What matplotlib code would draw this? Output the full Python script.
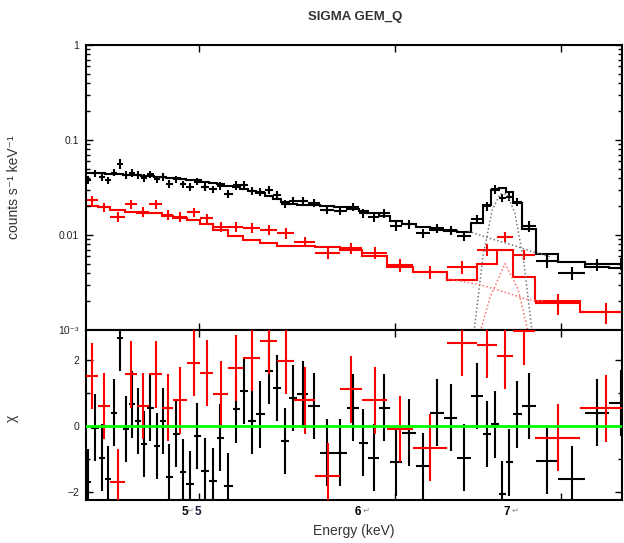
import numpy as np
import matplotlib
matplotlib.use("Agg")
import matplotlib.pyplot as plt
from matplotlib.ticker import FixedLocator, NullLocator, NullFormatter, LogLocator

plt.rcParams['font.family'] = ['Liberation Sans', 'DejaVu Sans']

# ---------------- data (energies in keV) ----------------
black_edges = [4.497, 4.524, 4.554, 4.582, 4.605, 4.631, 4.657, 4.683, 4.711, 4.735,
               4.762, 4.793, 4.822, 4.847, 4.878, 4.910, 4.940, 4.975, 5.009, 5.047,
               5.082, 5.118, 5.158, 5.194, 5.231, 5.272, 5.314, 5.356, 5.396, 5.436,
               5.479, 5.531, 5.595, 5.666, 5.735, 5.799, 5.853, 5.908, 5.971, 6.038,
               6.115, 6.198, 6.276, 6.358, 6.441, 6.508, 6.559, 6.608, 6.651, 6.692,
               6.751, 6.839, 6.981, 7.158, 7.320, 7.478]
black_data = [0.0381, 0.0445, 0.0407, 0.0378, 0.0454, 0.0560, 0.0428, 0.0453, 0.0431, 0.0399,
              0.0436, 0.0388, 0.0410, 0.0344, 0.0386, 0.0341, 0.0323, 0.0365, 0.0321, 0.0302,
              0.0331, 0.0271, 0.0334, 0.0337, 0.0294, 0.0285, 0.0297, 0.0265, 0.0212, 0.0230,
              0.0228, 0.0217, 0.0184, 0.0179, 0.0198, 0.0170, 0.0154, 0.0170, 0.0125, 0.0129,
              0.0104, 0.0118, 0.0113, 0.0097, 0.0147, 0.0200, 0.0302, 0.0246, 0.0254, 0.0223,
              0.0124, 0.0053, 0.0040, 0.0049, 0.0050]
black_relerr = [0.09, 0.09, 0.09, 0.09, 0.09, 0.12, 0.09, 0.09, 0.09, 0.09,
                0.09, 0.09, 0.09, 0.09, 0.09, 0.09, 0.09, 0.09, 0.09, 0.09,
                0.10, 0.10, 0.10, 0.10, 0.10, 0.10, 0.10, 0.10, 0.10, 0.10,
                0.10, 0.10, 0.10, 0.10, 0.10, 0.11, 0.11, 0.11, 0.11, 0.11,
                0.11, 0.11, 0.11, 0.11, 0.10, 0.10, 0.10, 0.10, 0.10, 0.10,
                0.13, 0.15, 0.15, 0.15, 0.15]
black_model = [0.0450, 0.0447, 0.0445, 0.0442, 0.0438, 0.0435, 0.0432, 0.0428, 0.0425, 0.0420,
               0.0415, 0.0410, 0.0405, 0.0400, 0.0395, 0.0390, 0.0383, 0.0375, 0.0365, 0.0355,
               0.0343, 0.0330, 0.0318, 0.0305, 0.0290, 0.0275, 0.0255, 0.0238, 0.0222, 0.0212,
               0.0208, 0.0205, 0.0200, 0.0195, 0.0188, 0.0180, 0.0172, 0.0160, 0.0142, 0.0132,
               0.0120, 0.0113, 0.0110, 0.0108, 0.0135, 0.0205, 0.0300, 0.0310, 0.0285, 0.0215,
               0.0115, 0.0063, 0.0052, 0.0046, 0.0045]
black_resid = [-1.7, -0.05, -0.95, -1.6, 0.4, 2.65, -0.1, 0.65, 0.15, -0.55,
               0.55, -0.6, 0.15, -1.55, -0.25, -1.4, -1.75, -0.3, -1.35, -1.65,
               -0.35, -1.8, 0.5, 1.05, 0.15, 0.35, 1.65, 1.15, -0.45, 0.85,
               0.95, 0.6, -0.8, -0.8, 0.55, -0.5, -0.95, 0.55, -1.1, -0.2,
               -1.2, 0.4, 0.25, -0.95, 0.9, -0.25, 0.05, -2.05, -1.1, 0.35,
               0.6, -1.05, -1.6, 0.4, 0.7]

red_edges = [4.497, 4.552, 4.603, 4.668, 4.720, 4.773, 4.831, 4.881, 4.945, 5.005,
             5.066, 5.137, 5.209, 5.292, 5.376, 5.462, 5.569, 5.700, 5.818, 5.955,
             6.100, 6.296, 6.474, 6.596, 6.695, 6.833, 7.125, 7.478]
red_data = [0.0234, 0.0198, 0.0155, 0.0210, 0.0175, 0.0210, 0.0163, 0.0155, 0.0175, 0.0150,
            0.0122, 0.0122, 0.0119, 0.0113, 0.0105, 0.0085, 0.0065, 0.0073, 0.0065, 0.0048,
            0.0041, 0.0046, 0.0070, 0.0095, 0.0062, 0.00192, 0.00155]
red_relerr = [0.11, 0.11, 0.12, 0.11, 0.12, 0.11, 0.12, 0.12, 0.11, 0.12,
              0.12, 0.12, 0.12, 0.12, 0.13, 0.13, 0.13, 0.13, 0.14, 0.16,
              0.16, 0.15, 0.14, 0.12, 0.13, 0.25, 0.25]
red_model = [0.0201, 0.0198, 0.0183, 0.0175, 0.0169, 0.0169, 0.0157, 0.0150, 0.0145, 0.0129,
             0.0113, 0.0097, 0.0088, 0.0082, 0.0077, 0.0077, 0.0074, 0.0070, 0.0060, 0.0046,
             0.0041, 0.0034, 0.0050, 0.0070, 0.0036, 0.0020, 0.00155]
red_resid = [1.5, 0.6, -1.7, 1.55, 0.6, 1.55, 0.55, 0.77, 1.9, 1.6,
             0.95, 1.75, 2.05, 2.55, 1.95, 0.77, -1.5, 1.1, 0.77, -0.1,
             -0.65, 2.5, 2.45, 2.1, 2.85, -0.35, 0.53]

# model components (dotted)
black_line_E = [6.451, 6.511, 6.565, 6.614, 6.658, 6.707, 6.764, 6.820]
black_line_val = [0.0008, 0.006, 0.018, 0.027, 0.027, 0.017, 0.005, 0.0008]
black_cont_E = [6.421, 6.553, 6.676, 6.801, 6.929]
black_cont_val = [0.0110, 0.0092, 0.0080, 0.0068, 0.0059]
red_line_E = [6.481, 6.553, 6.645, 6.726, 6.801]
red_line_val = [0.0008, 0.0022, 0.0050, 0.0027, 0.0008]
red_cont_E = [6.285, 6.493, 6.645, 6.783, 6.897]
red_cont_val = [0.0035, 0.0030, 0.0025, 0.0021, 0.0020]

y_ticks = [1e-3, 0.01, 0.1, 1]
y_ticklabels = ['10\u207b\u00b3', '0.01', '0.1', '1']
x_ticks = [5, 6, 7]
x_label_parts = [('5', 0.1838, 'k', 'bold', 8.5), ('\u21b5', 0.1950, '#888888', 'normal', 6),
                 ('5', 0.2080, '#1a1a40', 'bold', 8.5),
                 ('6', 0.5080, 'k', 'bold', 8.5), ('\u21b5', 0.5225, '#888888', 'normal', 6),
                 ('7', 0.7855, 'k', 'bold', 8.5), ('\u21b5', 0.8005, '#888888', 'normal', 6)]

# ---------------- helpers ----------------
def centers_widths(edges):
    e = np.asarray(edges)
    c = 0.5 * (e[:-1] + e[1:])
    return c, c - e[:-1], e[1:] - c

W, H = 624, 543
fig = plt.figure(figsize=(W / 100, H / 100), dpi=100)
L, R = 86, 622
ax1 = fig.add_axes([L / W, 1 - 330 / H, (R - L) / W, 285 / H])
ax2 = fig.add_axes([L / W, 1 - 500 / H, (R - L) / W, 170 / H], sharex=ax1)

lw = 1.5
for edges, data, rel, model, col in [(black_edges, black_data, black_relerr, black_model, 'black'),
                                     (red_edges, red_data, red_relerr, red_model, '#ff0000')]:
    c, xl, xr = centers_widths(edges)
    d = np.asarray(data)
    err = d * np.asarray(rel)
    ax1.errorbar(c, d, xerr=[xl, xr], yerr=err, fmt='none', ecolor=col, elinewidth=lw, capsize=0)
    ax1.stairs(model, edges, color=col, lw=lw)

ax1.plot(black_line_E, black_line_val, ls=(0, (1, 1.5)), color='#777777', lw=1.1)
ax1.plot(black_cont_E, black_cont_val, ls=(0, (1, 1.5)), color='#777777', lw=1.1)
ax1.plot(red_line_E, red_line_val, ls=(0, (1, 1.5)), color='#ff7070', lw=1.1)
ax1.plot(red_cont_E, red_cont_val, ls=(0, (1, 1.5)), color='#ff7070', lw=1.1)

for edges, res, col, z in [(black_edges, black_resid, 'black', 2), (red_edges, red_resid, '#ff0000', 3)]:
    c, xl, xr = centers_widths(edges)
    ax2.errorbar(c, res, xerr=[xl, xr], yerr=np.ones(len(res)), fmt='none', ecolor=col,
                 elinewidth=lw, capsize=0, zorder=z)
ax2.axhline(0, color='#00ff00', lw=2.0, zorder=5)

# ---------------- axes styling ----------------
for ax in (ax1, ax2):
    ax.set_xscale('log')
    ax.set_xlim(4.501, 7.409)
    ax.xaxis.set_major_locator(FixedLocator(x_ticks))
    ax.xaxis.set_minor_locator(NullLocator())
    ax.xaxis.set_major_formatter(NullFormatter())
    ax.xaxis.set_minor_formatter(NullFormatter())
    ax.tick_params(which='both', direction='in', top=True, right=True, width=1.0,
                   labelsize=7.5, labelcolor='#222222', pad=5)
    ax.tick_params(which='major', length=5)
    ax.tick_params(which='minor', length=3)
    for s in ax.spines.values():
        s.set_linewidth(1.5)

ax1.set_yscale('log')
ax1.set_ylim(1e-3, 1)
ax1.yaxis.set_major_locator(FixedLocator(y_ticks))
ax1.set_yticklabels(y_ticklabels)
ax1.yaxis.set_minor_locator(LogLocator(base=10, subs=np.arange(2, 10)))
ax1.yaxis.set_minor_formatter(NullFormatter())
ax1.tick_params(axis='x', labelbottom=False)

ax2.set_ylim(-2.23, 2.89)
ax2.yaxis.set_major_locator(FixedLocator([-2, 0, 2]))
ax2.yaxis.set_minor_locator(FixedLocator([-1, 1]))
ax2.set_yticklabels(['\u22122', '0', '2'])

ax1.set_ylabel('counts s\u207b\u00b9 keV\u207b\u00b9', fontsize=10, color='#333333')
ax1.yaxis.set_label_coords(-0.121, 0.5)
ax2.set_ylabel('\u03c7', fontsize=10, color='#333333')
ax2.yaxis.set_label_coords(-0.125, 0.48)

ax2.set_xlabel('Energy (keV)', fontsize=10, color='#333333', labelpad=12)

for txt, xf, col, wt, fs in x_label_parts:
    ax2.text(xf, -0.068, txt, transform=ax2.transAxes, ha='center', va='center',
             color=col, fontweight=wt, fontsize=fs)

fig.text(355 / W, 1 - 17 / H, 'SIGMA GEM_Q', ha='center', va='center', fontsize=9.5,
         fontweight='bold', color='#333333')

fig.savefig('out.png', dpi=100)
